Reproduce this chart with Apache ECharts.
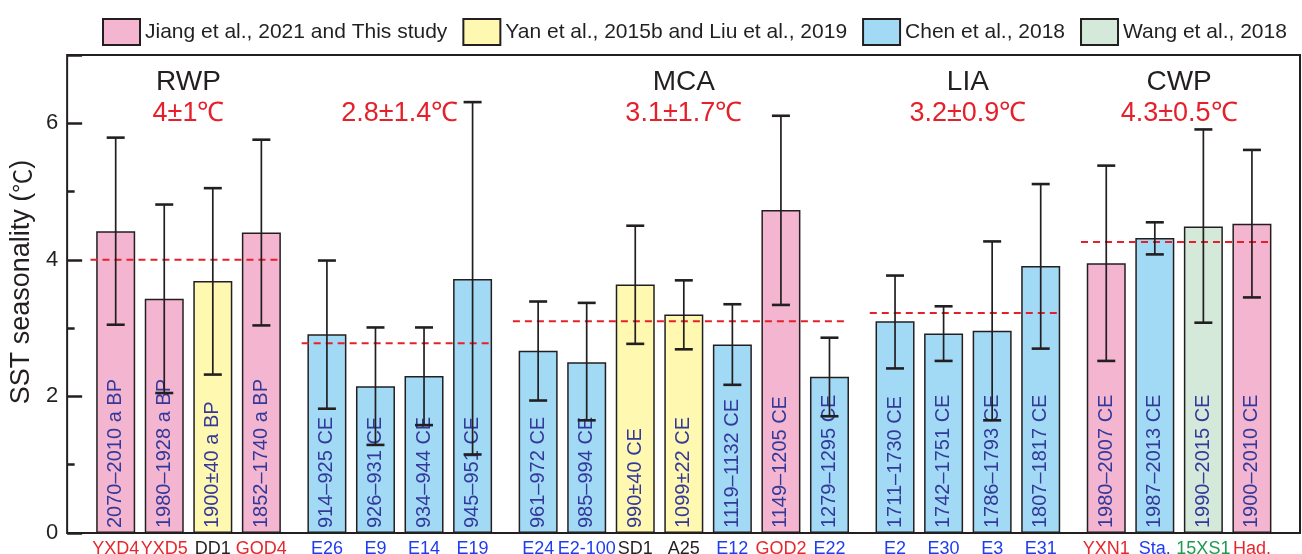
<!DOCTYPE html>
<html>
<head>
<meta charset="utf-8">
<script src="https://cdn.jsdelivr.net/npm/echarts@6/dist/echarts.min.js"></script>
<style>
  html, body { margin: 0; padding: 0; background: #fff; }
  #chart { width: 1302px; height: 554px; }
</style>
</head>
<body>
<div id="chart"></div>
<script>
// samples, left to right
var samples = ['YXD4', 'YXD5', 'DD1', 'GQD4',
  'E26', 'E9', 'E14', 'E19',
  'E24', 'E2-100', 'SD1', 'A25', 'E12', 'GQD2', 'E22',
  'E2', 'E30', 'E3', 'E31',
  'YXN1', 'Sta.', '15XS1', 'Had.']
var ages = ['2070–2010 a BP', '1980–1928 a BP', '1900±40 a BP', '1852–1740 a BP',
  '914–925 CE', '926–931 CE', '934–944 CE', '945–951 CE',
  '961–972 CE', '985–994 CE', '990±40 CE', '1099±22 CE', '1119–1132 CE', '1149–1205 CE', '1279–1295 CE',
  '1711–1730 CE', '1742–1751 CE', '1786–1793 CE', '1807–1817 CE',
  '1980–2007 CE', '1987–2013 CE', '1990–2015 CE', '1900–2010 CE']
// 0 Jiang/This study, 1 Yan/Liu, 2 Chen, 3 Wang
var sources = [0, 0, 1, 0, 2, 2, 2, 2, 2, 2, 1, 1, 2, 0, 2, 2, 2, 2, 2, 0, 2, 3, 0]
var seasonality = [4.42, 3.43, 3.69, 4.40, 2.91, 2.15, 2.30, 3.72, 2.67, 2.50, 3.64, 3.20, 2.76, 4.73, 2.29,
  3.10, 2.92, 2.96, 3.91, 3.95, 4.32, 4.49, 4.53]
var errUpper = [5.79, 4.81, 5.05, 5.76, 3.99, 3.01, 3.01, 6.31, 3.39, 3.37, 4.50, 3.70, 3.35, 6.11, 2.86,
  3.77, 3.32, 4.27, 5.11, 5.38, 4.55, 5.91, 5.61]
var errLower = [3.05, 2.05, 2.32, 3.04, 1.82, 1.29, 1.58, 1.15, 1.94, 1.65, 2.77, 2.69, 2.17, 3.34, 1.71,
  2.41, 2.52, 1.65, 2.70, 2.52, 4.08, 3.08, 3.45]

var groupSizes = [4, 4, 7, 4, 4]
var groupNames = ['RWP', '', 'MCA', 'LIA', 'CWP']
var groupMeans = [4.0, 2.78, 3.1, 3.22, 4.26]
var groupMeanLabels = ['4±1℃', '2.8±1.4℃', '3.1±1.7℃', '3.2±0.9℃', '4.3±0.5℃']

var sourceNames = ['Jiang et al., 2021 and This study', 'Yan et al., 2015b and Liu et al., 2019',
  'Chen et al., 2018', 'Wang et al., 2018']

var barColors = ['#f3b5cf', '#fff8b0', '#a2d9f4', '#d5e9da']
var tagColors = ['#e8262d', '#231f20', '#1f3cf0', '#1e9a50']
var red = '#e5202a'
var font = 'Liberation Sans, Arial, sans-serif'
var cjk = 'Noto Sans CJK SC, sans-serif'
var ink = '#231f20'

// x position of each bar, groups separated by an extra gap
var GAP = 0.35
var xPos = []
var k = 0
groupSizes.forEach(function(n, g) {
  for (var i = 0; i < n; i++) {
    xPos.push(1 + k + g * GAP)
    k++
  }
})

var barSeries = sourceNames.map(function(name, s) {
  var data = []
  for (var i = 0; i < samples.length; i++) {
    if (sources[i] === s) data.push({ value: [xPos[i], seasonality[i]], age: ages[i] })
  }
  return {
    name: name,
    type: 'bar',
    barWidth: 39,
    barGap: '-100%',
    z: 2,
    itemStyle: { color: barColors[s], borderColor: ink, borderWidth: 1.5 },
    label: {
      show: true,
      position: 'insideBottom',
      rotate: 90,
      align: 'left',
      verticalAlign: 'middle',
      distance: 5,
      fontFamily: font,
      fontSize: 20,
      color: '#33399a',
      formatter: function(p) { return p.data.age }
    },
    data: data
  }
})

var errData = xPos.map(function(x, i) { return [x, errLower[i], errUpper[i]] })

// texts: [x, y, text, kind, colour index]  kind 0 = period name, 1 = mean, 2 = sample tag
var meanData = []
var textData = []
var start = 0
groupSizes.forEach(function(n, g) {
  var x0 = xPos[start], x1 = xPos[start + n - 1]
  meanData.push([x0 - 0.52, x1 + 0.4, groupMeans[g]])
  var cx = (x0 + x1) / 2
  if (groupNames[g]) textData.push([cx, 6.6, groupNames[g], 0, 0])
  textData.push([cx, 6.14, groupMeanLabels[g], 1, 0])
  start += n
})
samples.forEach(function(s, i) {
  textData.push([xPos[i], 0, s, 2, sources[i]])
})

var chart = echarts.init(document.getElementById('chart'))

var option = {
  animation: false,
  legend: {
    left: 97,
    top: 13,
    itemWidth: 37,
    itemHeight: 26,
    itemGap: 15,
    icon: 'rect',
    textStyle: { fontFamily: font, fontSize: 21, color: ink },
    data: sourceNames
  },
  grid: {
    left: 66, right: 2, top: 55, bottom: 21,
    show: true, borderColor: ink, borderWidth: 2
  },
  xAxis: {
    type: 'value', min: 0, max: 25.39,
    axisLine: { show: false }, axisTick: { show: false },
    axisLabel: { show: false }, splitLine: { show: false }
  },
  yAxis: [{
    type: 'value', min: 0, max: 7, interval: 2,
    name: 'SST seasonality ({c|℃})',
    nameLocation: 'middle',
    nameGap: 24,
    nameTextStyle: {
      fontFamily: font, fontSize: 27, color: ink, padding: [0, 0, 0, 24],
      rich: { c: { fontFamily: cjk, fontSize: 24, color: ink } }
    },
    axisLine: { show: false },
    axisTick: { show: true, inside: true, length: 15, lineStyle: { color: ink, width: 2.5 } },
    axisLabel: {
      fontFamily: font, fontSize: 22, color: ink, margin: 9,
      formatter: function(v) { return v % 2 === 0 ? v : '' }
    },
    splitLine: { show: false }
  }, {
    type: 'value', min: 0, max: 7, interval: 1,
    position: 'left',
    axisLine: { show: false },
    axisTick: { show: true, inside: true, length: 7.5, lineStyle: { color: ink, width: 2.5 } },
    axisLabel: { show: false },
    splitLine: { show: false }
  }],
  series: barSeries.concat([
    {
      type: 'custom',
      z: 5,
      silent: true,
      renderItem: function(params, api) {
        var lo = api.coord([api.value(0), api.value(1)])
        var hi = api.coord([api.value(0), api.value(2)])
        var w = 9
        var st = { stroke: ink, lineWidth: 1.7 }
        var cap = { stroke: ink, lineWidth: 2.6 }
        return {
          type: 'group',
          children: [
            { type: 'line', shape: { x1: lo[0], y1: lo[1], x2: hi[0], y2: hi[1] }, style: st },
            { type: 'line', shape: { x1: lo[0] - w, y1: lo[1], x2: lo[0] + w, y2: lo[1] }, style: cap },
            { type: 'line', shape: { x1: hi[0] - w, y1: hi[1], x2: hi[0] + w, y2: hi[1] }, style: cap }
          ]
        }
      },
      data: errData
    },
    {
      type: 'custom',
      z: 4,
      silent: true,
      renderItem: function(params, api) {
        var a = api.coord([api.value(0), api.value(2)])
        var b = api.coord([api.value(1), api.value(2)])
        return {
          type: 'line',
          shape: { x1: a[0], y1: a[1], x2: b[0], y2: b[1] },
          style: { stroke: red, lineWidth: 2, lineDash: [7, 5] }
        }
      },
      data: meanData
    },
    {
      type: 'custom',
      z: 6,
      silent: true,
      clip: false,
      renderItem: function(params, api) {
        var d = textData[params.dataIndex]
        var p = api.coord([d[0], d[1]])
        var kind = d[3]
        var style = {
          text: d[2], x: p[0], y: p[1],
          align: 'center', verticalAlign: 'middle',
          fontFamily: font
        }
        if (kind === 0) { style.fill = ink; style.fontSize = 28 }
        else if (kind === 1) { style.fill = red; style.fontSize = 27 }
        else { style.fill = tagColors[d[4]]; style.fontSize = 18; style.verticalAlign = 'top'; style.y = p[1] + 7 }
        return { type: 'text', style: style }
      },
      data: textData.map(function(d) { return [d[0], d[1]] })
    }
  ])
}

chart.setOption(option)
</script>
</body>
</html>
